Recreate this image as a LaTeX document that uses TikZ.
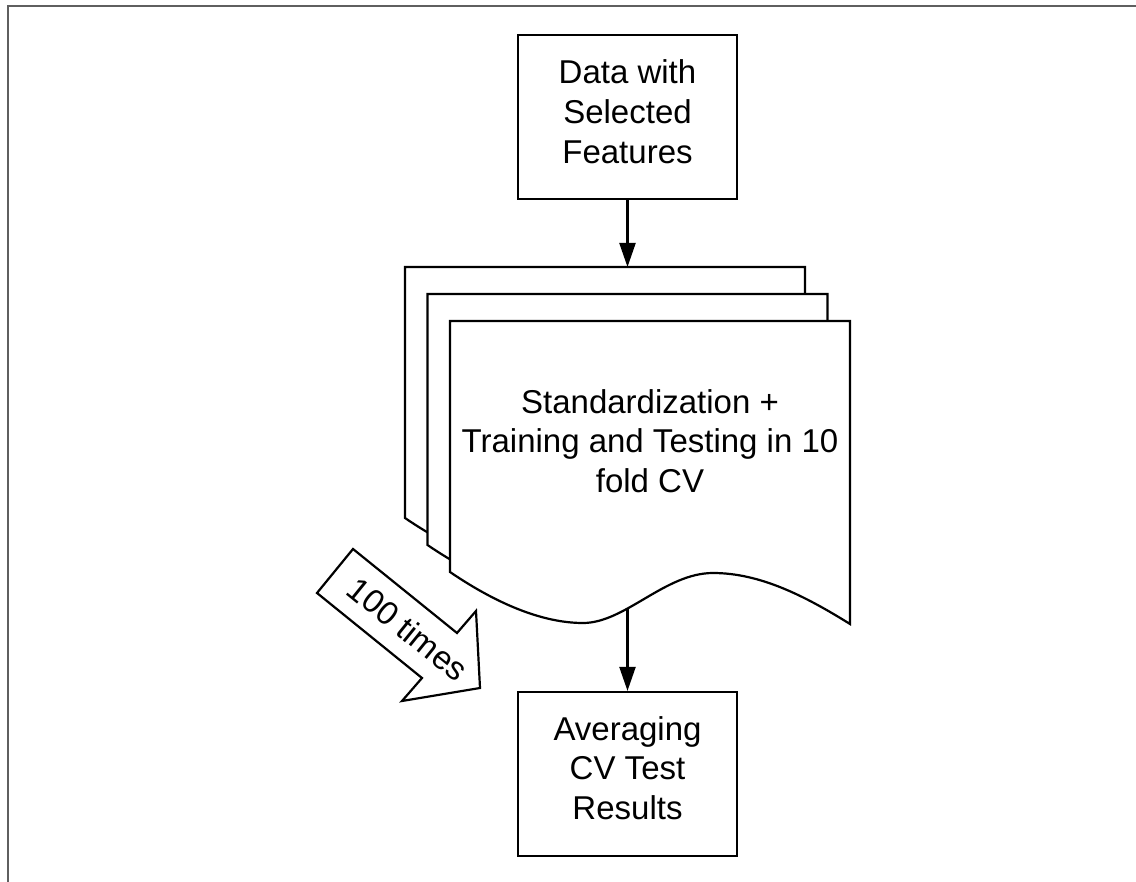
\documentclass[tikz,border=0pt]{standalone}
\usepackage{fontspec}
\setmainfont{Liberation Sans}
\usetikzlibrary{arrows.meta}
\definecolor{framegray}{RGB}{95,95,95}
\newcommand\docpage[2]{\draw[pageshape, shift={#1}] (0,0) -- (400,0) -- (400,303)
  .. controls (355,275) and (310,252) .. (263,252)
  .. controls (215,252) and (175,302) .. (133,302)
  .. controls (95,302) and (50,285) .. (0,251) -- cycle;
  \coordinate (#2) at #1;}
\begin{document}
\begin{tikzpicture}[x=1pt,y=-1pt,
  box/.style={draw, line width=2.2pt, minimum width=219pt, minimum height=164pt, inner sep=0pt, fill=white},
  lbl/.style={font=\fontsize{33}{39.7}\selectfont, align=center, inner sep=0pt},
  pageshape/.style={draw, line width=2.2pt, fill=white, line join=miter},
  flow/.style={line width=2.2pt, -{Triangle[length=24pt,width=16pt]}},
  blockarrow/.style={draw, line width=2.2pt, fill=white, line join=miter},
]
\useasboundingbox (0,0) rectangle (1136,882);
% frame
\draw[framegray, line width=2.5pt] (8,882) -- (8,6) -- (1136,6);

% top box
\node[box] (data) at (627.5,117) {};
\node[lbl] (datat) at (627.5,111.7) {Data with\\Selected\\Features};

% stacked documents
\docpage{(405,267)}{p1}
\docpage{(427.5,294)}{p2}
\docpage{(450,321)}{p3}
\coordinate (p1top) at (627.5,267);
\coordinate (wave) at (627.5,609);
\node[lbl] (std) at (650,441) {Standardization +\\Training and Testing in 10\\fold CV};

% bottom box
\node[box] (avg) at (627.5,774) {};
\node[lbl] (avgt) at (627.5,768) {Averaging\\CV Test\\Results};

% connectors
\draw[flow] (data.south) -- (p1top);
\draw[flow] (wave) -- (avg.north);

% block arrow "100 times"
\draw[blockarrow] (353,549) -- (457,633) -- (476,611) -- (480,688) -- (402,701) -- (422,678) -- (317,593) -- cycle;
\node[lbl, rotate=-39] (times) at (408,629) {100 times};
\end{tikzpicture}
\end{document}
